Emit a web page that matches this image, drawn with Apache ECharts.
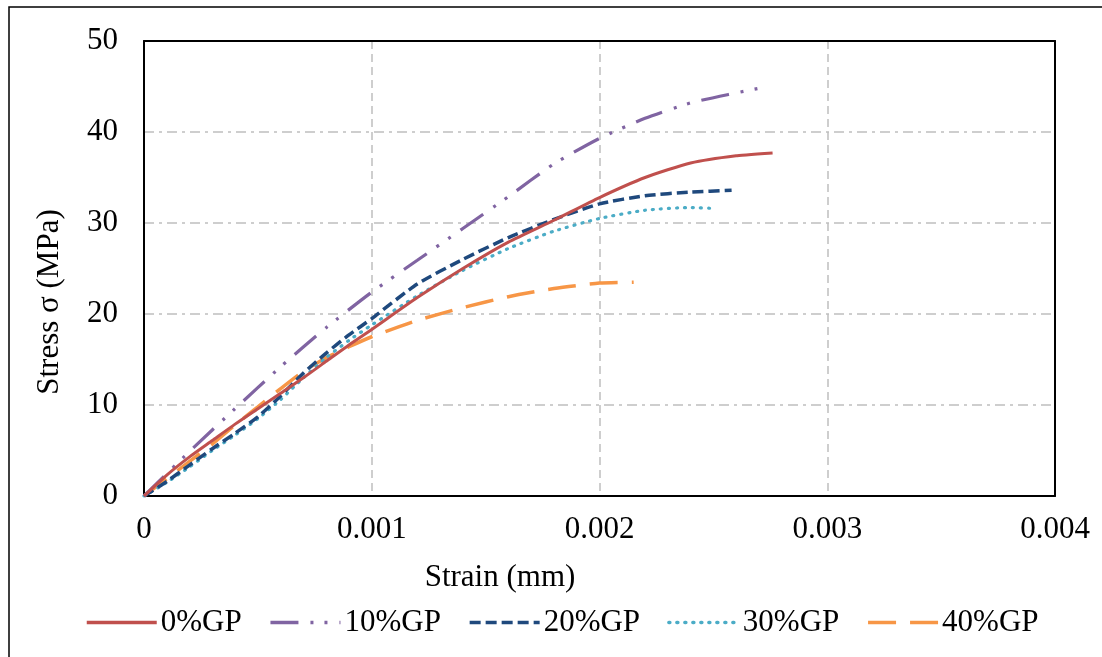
<!DOCTYPE html>
<html><head><meta charset="utf-8">
<script src="https://cdn.jsdelivr.net/npm/echarts@6/dist/echarts.min.js"></script>
<style>html,body{margin:0;padding:0;background:#fff}#c{width:1102px;height:657px}</style>
</head><body><div id="c"></div>
<script>
const seriesNames = ['0%GP','10%GP','20%GP','30%GP','40%GP'];
const gp0 = [[0,0],[0.0001,2.3],[0.0002,4.3],[0.0003,6.1],[0.0004,7.9],[0.0005,9.6],[0.0006,11.3],[0.0007,13.0],[0.0008,14.8],[0.0009,16.6],[0.001,18.3],[0.0012,21.8],[0.0014,25.0],[0.0016,27.9],[0.0018,30.3],[0.002,32.8],[0.0022,35.0],[0.0024,36.6],[0.0026,37.4],[0.00276,37.7]];
const gp10 = [[0,0],[0.0002,4.9],[0.0004,9.6],[0.0006,14.2],[0.0008,18.5],[0.001,22.4],[0.0012,25.9],[0.0014,29.4],[0.0016,32.9],[0.0018,36.5],[0.002,39.3],[0.0022,41.5],[0.0024,43.2],[0.0026,44.3],[0.0027,44.8]];
const gp20 = [[0,0],[0.0001,1.6],[0.0002,3.4],[0.0003,5.2],[0.0004,6.9],[0.0005,8.7],[0.0006,11.0],[0.0007,13.5],[0.0008,15.7],[0.0009,17.7],[0.001,19.5],[0.0012,23.3],[0.0014,26.0],[0.0016,28.4],[0.0018,30.4],[0.002,32.1],[0.0022,33.0],[0.0024,33.4],[0.00258,33.6]];
const gp30 = [[0,0],[0.0001,1.5],[0.0002,3.2],[0.0003,5.0],[0.0004,6.7],[0.0005,8.5],[0.0006,10.6],[0.0007,13.0],[0.0008,15.2],[0.0009,17.1],[0.001,18.8],[0.0012,22.0],[0.0014,24.8],[0.0016,27.2],[0.0018,29.1],[0.002,30.5],[0.0022,31.4],[0.0024,31.7],[0.0025,31.6]];
const gp40 = [[0,0],[0.0001,1.9],[0.0002,3.8],[0.0003,5.7],[0.0004,7.8],[0.0005,9.8],[0.0006,11.8],[0.0007,13.7],[0.0008,15.2],[0.0009,16.4],[0.001,17.5],[0.0012,19.3],[0.0014,20.7],[0.0016,21.9],[0.0018,22.8],[0.002,23.4],[0.00215,23.5]];
const xTicks = [0,0.001,0.002,0.003,0.004];
const yTicks = [0,10,20,30,40,50];

const FONT = 'Liberation Serif';
const FS = 31;
const colors = ['#c0504d','#8064a2','#1f497d','#4bacc6','#f79646'];
const styles = [
  {type:'solid', width:3, cap:'butt'},
  {type:[28,12,3,11,3,12], width:3.2, cap:'butt'},
  {type:[11,5], width:3.5, cap:'butt'},
  {type:[1,7], width:3.2, cap:'round'},
  {type:[28,14], width:3.5, cap:'butt'}
];
const datas = [gp0,gp10,gp20,gp30,gp40];
const frameLine = {show:true,onZero:false,lineStyle:{color:'#000',width:2}};

const chart = echarts.init(document.getElementById('c'), null, {renderer:'canvas'});
chart.setOption({
  animation:false,
  backgroundColor:'#fff',
  grid:{left:144,right:47,top:41,bottom:161,show:false,containLabel:false},
  xAxis:[{type:'value',min:0,max:0.004,interval:0.001,
    axisLine:frameLine,axisTick:{show:false},
    axisLabel:{fontFamily:FONT,fontSize:FS,color:'#000',margin:18,
      formatter:v=>{const i=xTicks.findIndex(t=>Math.abs(t-v)<1e-9);return i>=0?String(xTicks[i]):'';}},
    splitLine:{show:true,lineStyle:{color:'#bfbfbf',width:1.5,type:[8,5]}}},
   {type:'value',position:'top',min:0,max:0.004,interval:0.001,axisLine:frameLine,axisTick:{show:false},axisLabel:{show:false},splitLine:{show:false}}],
  yAxis:[{type:'value',min:0,max:50,interval:10,
    axisLine:frameLine,axisTick:{show:false},
    axisLabel:{fontFamily:FONT,fontSize:FS,color:'#000',margin:26,
      formatter:v=>yTicks.includes(v)?String(v):''},
    splitLine:{show:true,lineStyle:{color:'#bfbfbf',width:1.5,type:[10,5,3,5]}}},
   {type:'value',position:'right',min:0,max:50,interval:10,axisLine:frameLine,axisTick:{show:false},axisLabel:{show:false},splitLine:{show:false}}],
  legend:{bottom:14,left:80,itemWidth:70,itemHeight:14,itemGap:27,
    itemStyle:{opacity:0},
    lineStyle:{width:3.5},
    textStyle:{fontFamily:FONT,fontSize:FS,color:'#000',padding:[0,0,0,-1]},
    data:seriesNames},
  graphic:[
    {type:'rect',shape:{x:9,y:7,width:1200,height:700},style:{fill:'none',stroke:'#000',lineWidth:1.5},silent:true,z:-1},
    {type:'text',x:500,y:578,style:{text:'Strain (mm)',font:FS+'px "Liberation Serif"',fill:'#000',align:'center',verticalAlign:'middle'}},
    {type:'text',x:50,y:302,rotation:Math.PI/2,style:{text:'Stress σ (MPa)',font:FS+'px "Liberation Serif"',fill:'#000',align:'center',verticalAlign:'middle'}}
  ],
  series:seriesNames.map((n,i)=>({
    name:n,type:'line',data:datas[i],showSymbol:false,symbol:'none',smooth:0.2,
    lineStyle:Object.assign({color:colors[i]},styles[i]),itemStyle:{color:colors[i]},z:10-i
  }))
});
</script></body></html>
